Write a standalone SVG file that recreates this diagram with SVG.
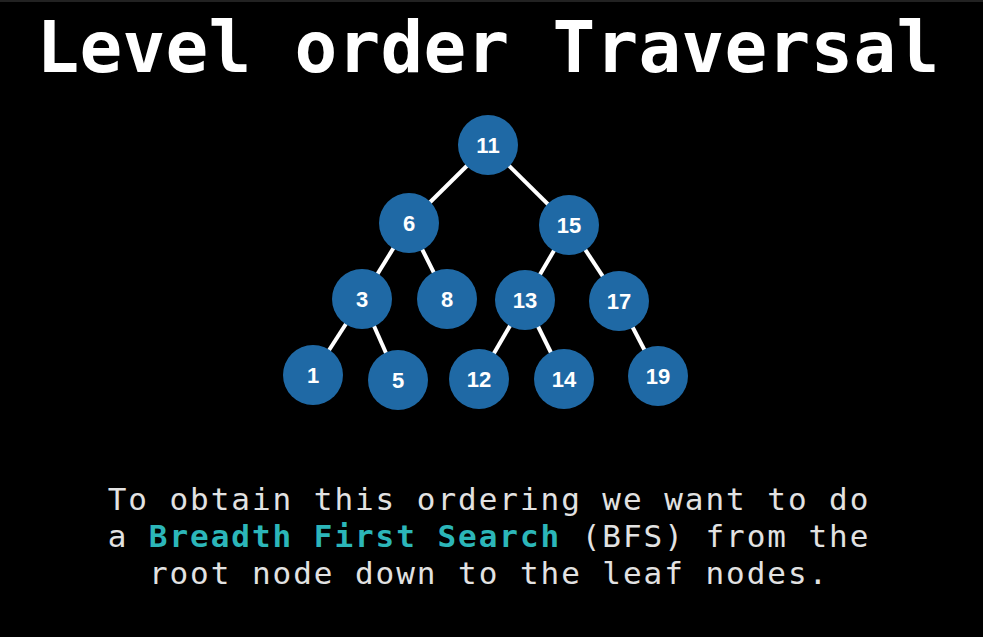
<svg xmlns="http://www.w3.org/2000/svg" width="983" height="637" viewBox="0 0 983 637">
<style>
.node circle { fill: #1f69a5; }
.node text { fill: #ffffff; font-family: "Liberation Sans", Arial, sans-serif; font-weight: bold; font-size: 22px; text-anchor: middle; }
.edge { stroke: #ffffff; stroke-width: 4; stroke-linecap: butt; }
.title { fill: #ffffff; font-family: "DejaVu Sans Mono", monospace; font-weight: bold; font-size: 71px; letter-spacing: 0.25px; text-anchor: middle; }
.body { fill: #e2e2e2; font-family: "DejaVu Sans Mono", monospace; font-size: 31px; letter-spacing: 1.95px; text-anchor: middle; }
.hl { fill: #2cb6b9; font-weight: bold; }
</style>
<rect x="0" y="0" width="983" height="637" fill="#000000"/>
<rect x="0" y="0" width="983" height="2" fill="#222222"/>
<text class="title" x="488" y="72">Level order Traversal</text>
<g id="connectors">
<line class="edge" x1="488" y1="145" x2="409" y2="223"/>
<line class="edge" x1="488" y1="145" x2="569" y2="225"/>
<line class="edge" x1="409" y1="223" x2="362" y2="299"/>
<line class="edge" x1="409" y1="223" x2="447" y2="299"/>
<line class="edge" x1="569" y1="225" x2="525" y2="300"/>
<line class="edge" x1="569" y1="225" x2="619" y2="301"/>
<line class="edge" x1="362" y1="299" x2="313" y2="375"/>
<line class="edge" x1="362" y1="299" x2="398" y2="380"/>
<line class="edge" x1="525" y1="300" x2="479" y2="379"/>
<line class="edge" x1="525" y1="300" x2="564" y2="379"/>
<line class="edge" x1="619" y1="301" x2="658" y2="376"/>
</g>
<g id="n11" class="node"><circle cx="488" cy="145" r="30"/><text x="488" y="153">11</text></g>
<g id="n6" class="node"><circle cx="409" cy="223" r="30"/><text x="409" y="231">6</text></g>
<g id="n15" class="node"><circle cx="569" cy="225" r="30"/><text x="569" y="233">15</text></g>
<g id="n3" class="node"><circle cx="362" cy="299" r="30"/><text x="362" y="307">3</text></g>
<g id="n8" class="node"><circle cx="447" cy="299" r="30"/><text x="447" y="307">8</text></g>
<g id="n13" class="node"><circle cx="525" cy="300" r="30"/><text x="525" y="308">13</text></g>
<g id="n17" class="node"><circle cx="619" cy="301" r="30"/><text x="619" y="309">17</text></g>
<g id="n1" class="node"><circle cx="313" cy="375" r="30"/><text x="313" y="383">1</text></g>
<g id="n5" class="node"><circle cx="398" cy="380" r="30"/><text x="398" y="388">5</text></g>
<g id="n12" class="node"><circle cx="479" cy="379" r="30"/><text x="479" y="387">12</text></g>
<g id="n14" class="node"><circle cx="564" cy="379" r="30"/><text x="564" y="387">14</text></g>
<g id="n19" class="node"><circle cx="658" cy="376" r="30"/><text x="658" y="384">19</text></g>
<text class="body" x="489" y="510">To obtain this ordering we want to do</text>
<text class="body" x="489" y="547" xml:space="preserve">a <tspan class="hl">Breadth First Search</tspan> (BFS) from the</text>
<text class="body" x="489" y="584">root node down to the leaf nodes.</text>
</svg>
